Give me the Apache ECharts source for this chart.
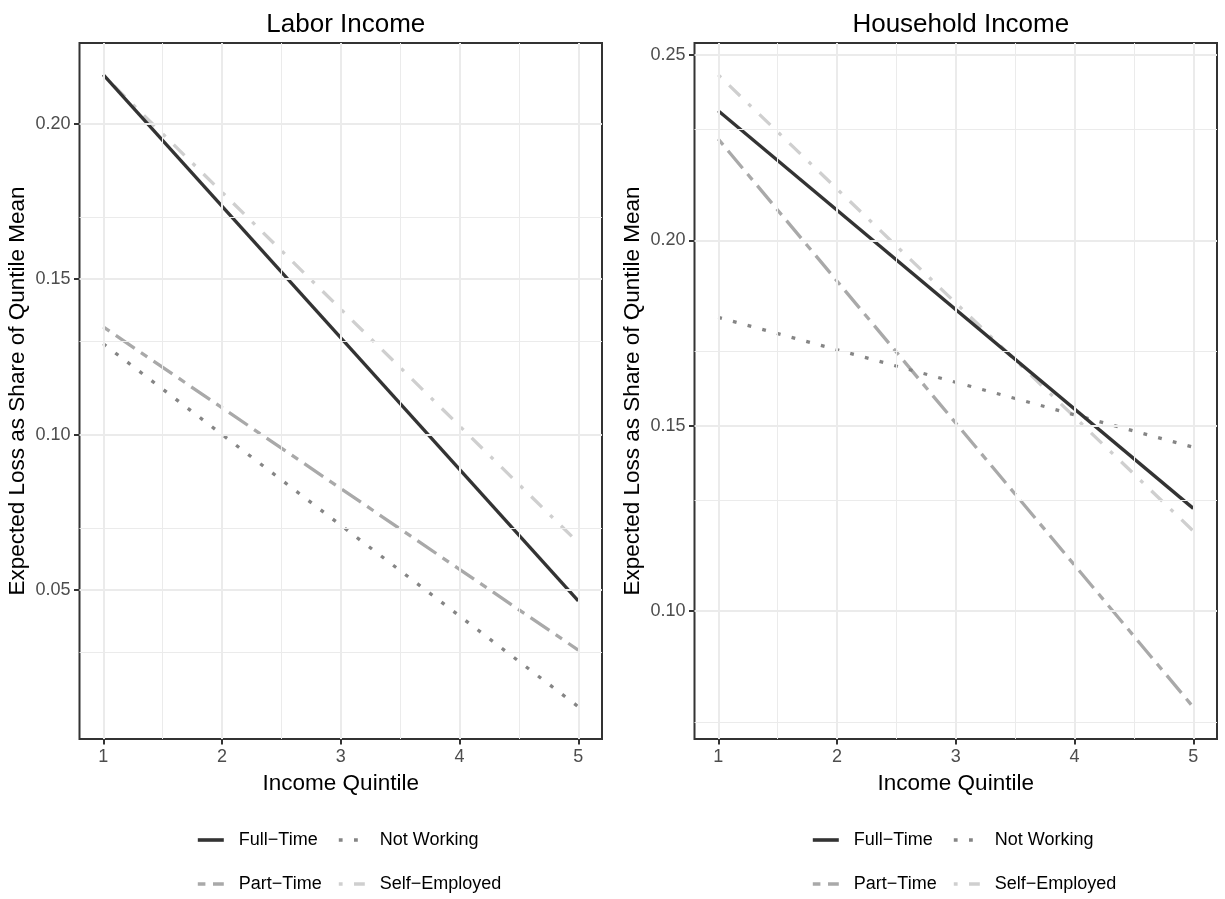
<!DOCTYPE html>
<html>
<head>
<meta charset="utf-8">
<script src="https://cdn.jsdelivr.net/npm/echarts@6/dist/echarts.min.js"></script>
<style>
  html, body { margin: 0; padding: 0; background: #ffffff; }
  #chart { width: 1225px; height: 899px; }
</style>
</head>
<body>
<div id="chart"></div>
<script>
// ---- data ----
const quintiles = [1, 5];
const seriesNames = ['Full\u2212Time', 'Part\u2212Time', 'Not Working', 'Self\u2212Employed'];

// Labor Income panel (value at quintile 1, value at quintile 5)
const laborFullTime     = [0.2157, 0.0465];
const laborPartTime     = [0.1346, 0.0307];
const laborNotWorking   = [0.1292, 0.0125];
const laborSelfEmployed = [0.2155, 0.0652];

// Household Income panel
const hhFullTime     = [0.2349, 0.1277];
const hhPartTime     = [0.2273, 0.0741];
const hhNotWorking   = [0.1792, 0.1442];
const hhSelfEmployed = [0.2446, 0.1216];

// tick labels / grid values
const xTicks = [1, 2, 3, 4, 5];
const xMinor = [1.5, 2.5, 3.5, 4.5];
const laborYTicks = [0.05, 0.10, 0.15, 0.20];
const laborYMinor = [0.025, 0.075, 0.125, 0.175, 0.225];
const hhYTicks = [0.10, 0.15, 0.20, 0.25];
const hhYMinor = [0.075, 0.125, 0.175, 0.225];

const panelTitles = ['Labor Income', 'Household Income'];
const xTitle = 'Income Quintile';
const yTitle = 'Expected Loss as Share of Quntile Mean';

// ---- styling ----
const FONT = '"Liberation Sans", Arial, sans-serif';
const U = 3.8; // dash unit
const styles = {
  'Full\u2212Time':     { color: '#333333', type: 'solid' },
  'Part\u2212Time':     { color: '#a9a9a9', type: [2 * U, 2 * U, 6 * U, 2 * U] },
  'Not Working':        { color: '#858585', type: [U, 3 * U] },
  'Self\u2212Employed': { color: '#cfcfcf', type: [U, 3 * U, 4 * U, 3 * U] }
};
const LW = 3.3;

function pairs(vals) { return quintiles.map((q, i) => [q, vals[i]]); }

function lineSeries(name, vals, idx) {
  const st = styles[name];
  return {
    name: name,
    type: 'line',
    xAxisIndex: idx, yAxisIndex: idx,
    data: pairs(vals),
    symbol: 'none',
    silent: true,
    z: 3,
    lineStyle: { color: st.color, width: LW, type: st.type, cap: 'butt' },
    itemStyle: { color: st.color },
    emphasis: { disabled: true }
  };
}

function gridSeries(idx, yMajor, yMinor) {
  const d = [];
  xTicks.forEach(v => d.push({ xAxis: v, lineStyle: { width: 2, color: '#ebebeb', type: 'solid' } }));
  xMinor.forEach(v => d.push({ xAxis: v, lineStyle: { width: 1, color: '#ebebeb', type: 'solid' } }));
  yMajor.forEach(v => d.push({ yAxis: v, lineStyle: { width: 2, color: '#ebebeb', type: 'solid' } }));
  yMinor.forEach(v => d.push({ yAxis: v, lineStyle: { width: 1, color: '#ebebeb', type: 'solid' } }));
  return {
    type: 'line', xAxisIndex: idx, yAxisIndex: idx, data: [], silent: true, z: 1,
    markLine: { silent: true, symbol: ['none', 'none'], label: { show: false },
      emphasis: { disabled: true }, animation: false, data: d }
  };
}

const grids = [
  { left: 79.5, right: 623, top: 43, bottom: 160 },
  { left: 694.5, right: 8, top: 43, bottom: 160 }
];
const yRanges = [[0.0021, 0.2259], [0.0655, 0.2532]];
const yTickSets = [laborYTicks, hhYTicks];

const xAxes = [0, 1].map(i => ({
  type: 'value', gridIndex: i, min: 0.8, max: 5.2,
  name: xTitle, nameLocation: 'middle', nameGap: 33,
  nameTextStyle: { fontFamily: FONT, fontSize: 22.5, color: '#000000' },
  axisLine: { show: false },
  axisTick: { show: true, length: 5.5, customValues: xTicks, lineStyle: { color: '#333333', width: 2 } },
  axisLabel: { customValues: xTicks, margin: 9, fontFamily: FONT, fontSize: 18, color: '#4d4d4d',
    formatter: v => String(v) },
  splitLine: { show: false }
}));
const yAxes = [0, 1].map(i => ({
  type: 'value', gridIndex: i, min: yRanges[i][0], max: yRanges[i][1],
  name: yTitle, nameLocation: 'middle', nameGap: 50,
  nameTextStyle: { fontFamily: FONT, fontSize: 22.5, color: '#000000' },
  axisLine: { show: false },
  axisTick: { show: true, length: 5.5, customValues: yTickSets[i], lineStyle: { color: '#333333', width: 2 } },
  axisLabel: { customValues: yTickSets[i], margin: 9, fontFamily: FONT, fontSize: 18, color: '#4d4d4d',
    formatter: v => v.toFixed(2) },
  splitLine: { show: false }
}));

function legend(left, names) {
  return {
    orient: 'vertical', left: left, top: 829, padding: 0,
    itemWidth: 26, itemHeight: 14, itemGap: 22,
    data: names, selectedMode: false,
    itemStyle: { opacity: 0 },
    lineStyle: { width: 3.6, cap: 'butt' },
    textStyle: { fontFamily: FONT, fontSize: 18, color: '#000000', lineHeight: 22, padding: [0, 0, 0, 10] }
  };
}

const option = {
  animation: false,
  backgroundColor: '#ffffff',
  title: [
    { text: panelTitles[0], left: 340.8, top: 7, textAlign: 'center',
      textStyle: { fontFamily: FONT, fontSize: 26, fontWeight: 'normal', color: '#000000' } },
    { text: panelTitles[1], left: 955.8, top: 7, textAlign: 'center',
      textStyle: { fontFamily: FONT, fontSize: 26, fontWeight: 'normal', color: '#000000' } }
  ],
  legend: [
    legend(196, [seriesNames[0], seriesNames[1]]),
    legend(337, [seriesNames[2], seriesNames[3]]),
    legend(811, [seriesNames[0], seriesNames[1]]),
    legend(952, [seriesNames[2], seriesNames[3]])
  ],
  grid: grids.map(g => Object.assign({ show: true, borderColor: '#333333', borderWidth: 2, backgroundColor: '#ffffff' }, g)),
  xAxis: xAxes,
  yAxis: yAxes,
  series: [
    gridSeries(0, laborYTicks, laborYMinor),
    gridSeries(1, hhYTicks, hhYMinor),
    lineSeries(seriesNames[3], laborSelfEmployed, 0),
    lineSeries(seriesNames[1], laborPartTime, 0),
    lineSeries(seriesNames[2], laborNotWorking, 0),
    lineSeries(seriesNames[0], laborFullTime, 0),
    lineSeries(seriesNames[3], hhSelfEmployed, 1),
    lineSeries(seriesNames[1], hhPartTime, 1),
    lineSeries(seriesNames[2], hhNotWorking, 1),
    lineSeries(seriesNames[0], hhFullTime, 1)
  ]
};

const chart = echarts.init(document.getElementById('chart'), null, { renderer: 'canvas' });
chart.setOption(option);
</script>
</body>
</html>
